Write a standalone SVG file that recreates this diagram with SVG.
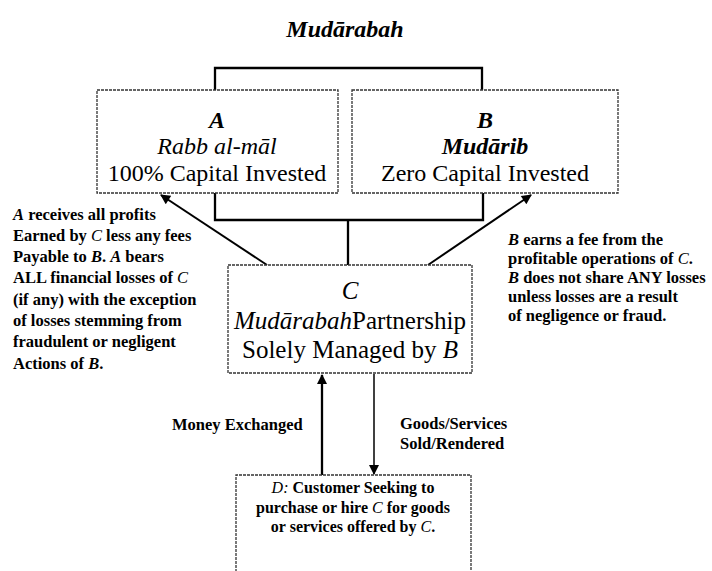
<svg xmlns="http://www.w3.org/2000/svg" width="712" height="571" viewBox="0 0 712 571">
<defs>
<style>
text{font-family:"Liberation Serif","Times New Roman",serif;fill:#000}
.box{fill:#fff;stroke:#333;stroke-width:1.3;stroke-dasharray:3 1}
.bt{font-size:24px;text-anchor:middle}
.ct{font-size:25px;text-anchor:middle}
.ann{font-size:16.5px;font-weight:bold}
.dt{font-size:16px;font-weight:bold;text-anchor:middle}
.i{font-style:italic}
.thick{fill:none;stroke:#000;stroke-width:2.3}
.arr{fill:none;stroke:#000;stroke-width:2}
</style>
<marker id="ah" viewBox="0 0 10 10" refX="9" refY="5" markerWidth="12" markerHeight="10" markerUnits="userSpaceOnUse" orient="auto">
<path d="M0,0 L10,5 L0,10 Z" fill="#000"/>
</marker>
</defs>
<rect width="712" height="571" fill="#fff"/>
<text x="345" y="37" style="font-size:24px;font-weight:bold;font-style:italic;text-anchor:middle">Mudārabah</text>

<g id="connectors">
<path class="thick" d="M215,90 V68 H482 V90"/>
<path class="thick" d="M215,193 V220 H483 V193 M348,220 V265"/>
<path class="arr" d="M267,265 L161,195" marker-end="url(#ah)"/>
<path class="arr" d="M428,265 L531,195" marker-end="url(#ah)"/>
<path class="thick" d="M322,475 V375" marker-end="url(#ah)"/>
<path class="arr" style="stroke-width:1.5" d="M374,374 V474" marker-end="url(#ah)"/>
</g>

<g id="nodeA">
<rect class="box" x="97" y="90" width="241" height="103"/>
<text class="bt" x="217" y="128"><tspan class="i" font-weight="bold">A</tspan></text>
<text class="bt i" x="217" y="154">Rabb al-māl</text>
<text class="bt" x="217" y="181">100% Capital Invested</text>
</g>

<g id="nodeB">
<rect class="box" x="352" y="90" width="266" height="103"/>
<text class="bt" x="485" y="128"><tspan class="i" font-weight="bold">B</tspan></text>
<text class="bt i" x="485" y="154" font-weight="bold">Mudārib</text>
<text class="bt" x="485" y="181">Zero Capital Invested</text>
</g>

<g id="nodeC">
<rect class="box" x="228" y="265" width="244" height="108"/>
<text class="ct i" x="350" y="299">C</text>
<text class="ct" x="350" y="329"><tspan class="i">Mudārabah</tspan>Partnership</text>
<text class="ct" x="350" y="358">Solely Managed by <tspan class="i">B</tspan></text>
</g>

<g id="nodeD">
<path class="box" d="M236,580 V475 H471 V580"/>
<text class="dt" x="353" y="493"><tspan class="i" font-weight="normal">D:</tspan> Customer Seeking to</text>
<text class="dt" x="353" y="513">purchase or hire <tspan class="i" font-weight="normal">C</tspan> for goods</text>
<text class="dt" x="353" y="532">or services offered by <tspan class="i" font-weight="normal">C</tspan>.</text>
</g>

<g id="noteA">
<text class="ann" x="13" y="220"><tspan class="i">A</tspan> receives all profits</text>
<text class="ann" x="13" y="241">Earned by <tspan class="i" font-weight="normal">C</tspan> less any fees</text>
<text class="ann" x="13" y="262">Payable to <tspan class="i">B</tspan>.  <tspan class="i">A</tspan> bears</text>
<text class="ann" x="13" y="283">ALL financial losses of <tspan class="i" font-weight="normal">C</tspan></text>
<text class="ann" x="13" y="305">(if any) with the exception</text>
<text class="ann" x="13" y="326">of losses stemming from</text>
<text class="ann" x="13" y="347">fraudulent or negligent</text>
<text class="ann" x="13" y="369">Actions of <tspan class="i">B</tspan>.</text>
</g>

<g id="noteB">
<text class="ann" x="508" y="245"><tspan class="i">B</tspan> earns a fee from the</text>
<text class="ann" x="508" y="264">profitable operations of <tspan class="i" font-weight="normal">C</tspan>.</text>
<text class="ann" x="508" y="283"><tspan class="i">B</tspan> does not share ANY losses</text>
<text class="ann" x="508" y="302">unless losses are a result</text>
<text class="ann" x="508" y="321">of negligence or fraud.</text>
</g>

<g id="labels">
<text class="ann" x="172" y="430">Money Exchanged</text>
<text class="ann" x="400" y="429">Goods/Services</text>
<text class="ann" x="400" y="449">Sold/Rendered</text>
</g>
</svg>
